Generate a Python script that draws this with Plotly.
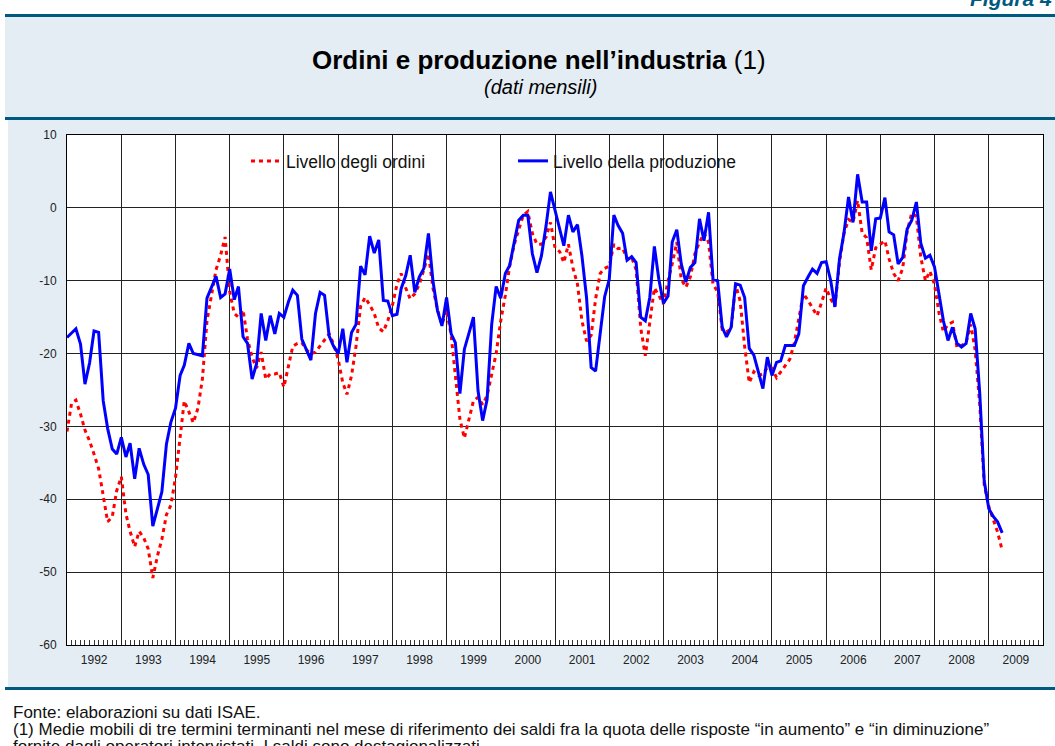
import plotly.graph_objects as go
import pandas as pd

# ---- data (monthly, Jan 1992 - Apr 2009) ----
start_month = "1992-01-01"
ordini = [
    -30.7, -26.8, -26.4, -28.3, -30.5, -32.0, -33.8, -35.8, -39.5, -43.1, -42.4, -38.8,
    -36.9, -42.0, -44.4, -46.5, -44.4, -45.3, -46.8, -50.8, -47.8, -45.5, -42.1, -40.8,
    -37.0, -31.0, -26.5, -28.0, -29.5, -27.5, -23.5, -15.5, -11.8, -8.5, -6.5, -4.0,
    -11.5, -14.5, -15.0, -14.0, -18.0, -20.5, -22.0, -19.8, -23.5, -22.8, -22.8, -22.6,
    -24.6, -21.5, -19.0, -18.6, -18.5, -19.5, -20.0, -19.8, -19.0, -18.2, -17.3, -18.7,
    -20.8, -24.0, -25.6, -23.0, -19.0, -13.5, -12.3, -13.3, -14.5, -16.5, -17.0, -15.5,
    -13.4, -10.5, -9.0, -11.0, -12.5, -11.8, -10.5, -8.5, -6.3, -11.0, -14.0, -16.0,
    -14.0, -17.5, -23.0, -29.0, -31.6, -29.0, -26.5, -26.0, -27.0, -25.8, -23.0, -20.0,
    -15.5, -12.0, -8.0, -5.0, -3.0, -1.0, -0.5, -3.5, -5.0, -5.0, -4.0, -2.0,
    -5.5, -6.0, -7.5, -5.0, -8.2, -10.5, -15.5, -18.3, -17.5, -12.5, -9.0, -8.3,
    -8.0, -5.0, -5.6, -5.5, -7.0, -6.8, -8.5, -16.5, -20.3, -15.5, -11.0, -12.0,
    -13.2, -10.0, -7.7, -4.7, -9.8, -10.9, -9.5, -6.3, -4.7, -3.5, -4.7, -10.5,
    -11.5, -16.7, -17.0, -16.7, -10.5, -12.8, -19.0, -24.0, -22.5, -23.0, -22.8, -21.9,
    -22.0, -23.3, -22.5, -21.5, -20.8, -18.5, -15.0, -11.8, -12.7, -13.8, -14.8, -13.0,
    -11.0, -12.5, -13.5, -7.5, -3.5, -1.6, -2.0, 1.0, -3.5, -4.1, -8.5, -5.5,
    -5.0, -4.5, -7.0, -9.0, -10.0, -8.3, -3.2, -0.7, -1.2, -6.8, -10.0, -8.7,
    -10.5, -14.5, -17.0, -16.0, -15.7, -19.2, -18.9, -18.5, -16.0, -19.5, -27.0, -38.0,
    -41.0, -42.8, -44.5, -47.0,
]
produzione = [
    -17.8, -17.2, -16.6, -18.7, -24.2, -21.3, -16.9, -17.1, -26.5, -30.3, -33.1, -33.8,
    -31.5, -34.2, -32.3, -37.2, -33.0, -35.2, -36.6, -43.7, -41.4, -39.0, -32.4, -29.4,
    -27.5, -23.0, -21.6, -18.6, -20.0, -20.1, -20.3, -12.4, -11.0, -9.4, -12.3, -11.8,
    -8.4, -12.6, -10.8, -17.7, -18.6, -23.5, -21.4, -14.5, -18.2, -14.8, -17.3, -14.5,
    -15.0, -12.9, -11.3, -12.0, -18.0, -19.6, -20.9, -14.5, -11.6, -12.0, -17.6, -19.0,
    -20.0, -16.6, -21.2, -17.1, -16.0, -8.0, -9.2, -3.9, -6.2, -4.4, -12.7, -12.8,
    -14.8, -14.6, -11.1, -9.3, -6.5, -11.6, -9.5, -8.3, -3.5, -10.0, -14.1, -16.2,
    -12.3, -17.3, -18.5, -25.5, -19.4, -17.2, -15.0, -25.1, -29.2, -26.3, -16.0, -10.8,
    -12.4, -9.0, -7.9, -4.7, -1.7, -1.0, -1.0, -6.3, -8.9, -6.6, -2.5, 2.2,
    -0.4, -2.7, -5.2, -1.0, -3.3, -2.3, -6.6, -12.3, -21.9, -22.4, -17.1, -12.2,
    -9.8, -1.0, -2.4, -3.5, -7.2, -6.7, -7.5, -15.0, -15.5, -12.3, -5.3, -9.8,
    -13.1, -12.1, -4.7, -3.0, -7.7, -10.2, -8.2, -7.5, -1.5, -4.5, -0.6, -9.8,
    -10.0, -16.4, -17.7, -16.4, -10.4, -10.6, -12.3, -19.3, -20.2, -22.3, -24.8, -20.5,
    -23.0, -21.2, -21.0, -18.9, -18.9, -18.9, -17.3, -10.7, -9.5, -8.4, -9.0, -7.5,
    -7.4, -10.0, -13.6, -7.0, -3.5, 1.5, -2.0, 4.6, 0.8, 0.8, -5.9, -1.5,
    -1.4, 1.4, -3.3, -3.7, -7.7, -6.8, -2.9, -1.7, 0.8, -4.9, -6.9, -6.5,
    -8.1, -11.8, -15.5, -18.2, -16.4, -18.6, -19.1, -18.6, -14.5, -16.6, -25.5, -37.5,
    -41.3, -42.4, -43.1, -44.6,
]
y_ticks = [10, 0, -10, -20, -30, -40, -50, -60]
y_tick_labels = ["10", "0", "-10", "-20", "-30", "-40", "-50", "-60"]
series_names = ["Livello degli ordini", "Livello della produzione"]
figure_label = "Figura 4"
title_main = "Ordini e produzione nell’industria"
subtitle = "(dati mensili)"
note_source = "Fonte: elaborazioni su dati ISAE."
note_1 = ("(1) Medie mobili di tre termini terminanti nel mese di riferimento dei saldi fra la quota "
          "delle risposte “in aumento” e “in diminuzione”")
note_2 = "fornite dagli operatori intervistati. I saldi sono destagionalizzati."

months = pd.date_range(start_month, periods=len(produzione), freq="MS")

# ---- geometry helpers (pixel -> paper) ----
W, H = 1055, 746
L, R, T, B = 67, 12, 135, 101
PW, PH = W - L - R, H - T - B


def xp(px):
    return (px - L) / PW


def yp(py):
    return (H - B - py) / PH


DARK = "#005a80"
LIGHT = "#e4edf4"
FONT = "Liberation Sans, Arial, sans-serif"

fig = go.Figure()
fig.add_trace(go.Scatter(x=months, y=ordini, mode="lines", name=series_names[0],
                         line=dict(color="#ff0000", width=3, dash="4px,4px")))
fig.add_trace(go.Scatter(x=months, y=produzione, mode="lines", name=series_names[1],
                         line=dict(color="#0000ff", width=3)))

shapes = []


def rect(x0, y0, x1, y1, color, layer="below"):
    shapes.append(dict(type="rect", xref="paper", yref="paper", layer=layer,
                       x0=xp(x0), x1=xp(x1), y0=yp(y1), y1=yp(y0),
                       fillcolor=color, line=dict(width=0)))


rect(5, 17, W + 5, 117, LIGHT)
rect(8, 120, W + 5, 687, LIGHT)
rect(L, T, W - R, H - B, "white")
rect(5, 14, W + 5, 17, DARK)
rect(5, 117, W + 5, 120, DARK)
rect(5, 687, W + 5, 690, DARK)
# white box behind the legend (hides the gridlines there)
rect(229, 143, 745, 179, "white", layer="between")

NOTE_SIZE = 17
annotations = [
    dict(text=f"<b><i>{figure_label}</i></b>", x=xp(1054), y=yp(12), xanchor="right", yanchor="bottom",
         font=dict(size=21, color=DARK, family=FONT), showarrow=False, xref="paper", yref="paper"),
    dict(text=f"<b>{title_main}</b> (1)", x=xp(539), y=yp(60), xanchor="center", yanchor="middle",
         font=dict(size=26, color="black", family=FONT), showarrow=False, xref="paper", yref="paper"),
    dict(text=f"<i>{subtitle}</i>", x=xp(540), y=yp(87), xanchor="center", yanchor="middle",
         font=dict(size=20, color="black", family=FONT), showarrow=False, xref="paper", yref="paper"),
    dict(text=note_source, x=xp(11), y=yp(712), xanchor="left", yanchor="middle",
         font=dict(size=NOTE_SIZE, color="#111", family=FONT), showarrow=False, xref="paper", yref="paper"),
    dict(text=note_1, x=xp(11), y=yp(729), xanchor="left", yanchor="middle",
         font=dict(size=NOTE_SIZE, color="#111", family=FONT), showarrow=False, xref="paper", yref="paper"),
    dict(text=note_2, x=xp(11), y=yp(746), xanchor="left", yanchor="middle",
         font=dict(size=NOTE_SIZE, color="#111", family=FONT), showarrow=False, xref="paper", yref="paper"),
]

fig.update_layout(
    width=W, height=H,
    margin=dict(l=L, r=R, t=T, b=B),
    paper_bgcolor="white", plot_bgcolor="white",
    font=dict(family=FONT, size=12, color="#222"),
    shapes=shapes, annotations=annotations,
    showlegend=True,
    legend=dict(orientation="h", x=xp(246), y=yp(143), xanchor="left", yanchor="top",
                bgcolor="rgba(0,0,0,0)", borderwidth=0, entrywidth=222, entrywidthmode="pixels",
                font=dict(size=17.5, color="#111", family=FONT), itemclick=False),
)
fig.update_xaxes(
    type="date", range=["1992-01-01", "2010-01-01"],
    dtick="M12", tick0="1992-01-01", tickformat="%Y", ticklabelmode="period",
    showgrid=True, gridcolor="#222", gridwidth=1,
    showline=True, linecolor="black", linewidth=1, mirror=True,
    ticks="", ticklabelstandoff=4,
    tickfont=dict(size=12, color="#222"),
    minor=dict(dtick="M1", ticks="inside", ticklen=5, tickcolor="#333", showgrid=False),
    zeroline=False, fixedrange=True,
)
fig.update_yaxes(
    range=[-60, 10], tickmode="array", tickvals=y_ticks, ticktext=y_tick_labels,
    showgrid=True, gridcolor="#222", gridwidth=1,
    showline=True, linecolor="black", linewidth=1, mirror=True,
    ticks="", ticklabelstandoff=7,
    tickfont=dict(size=12, color="#222"),
    zeroline=False, fixedrange=True,
)

fig.write_html("out.html", config={"displayModeBar": False},
               post_script="document.body.style.margin='0';")
